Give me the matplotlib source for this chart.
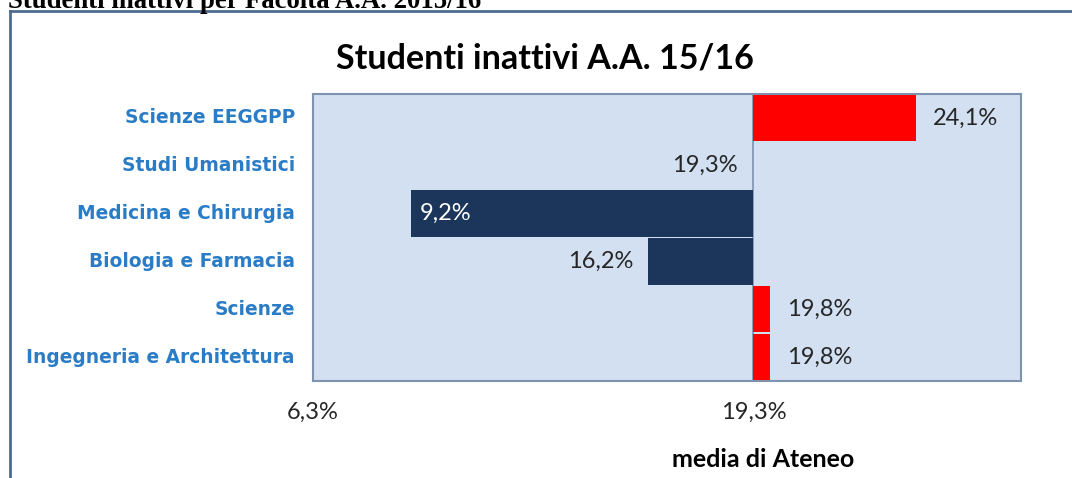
import numpy as np
import matplotlib
matplotlib.use("Agg")
import matplotlib.pyplot as plt
from matplotlib.lines import Line2D

# data
facolta = ["Scienze EEGGPP", "Studi Umanistici", "Medicina e Chirurgia",
           "Biologia e Farmacia", "Scienze", "Ingegneria e Architettura"]
inattivi = [24.1, 19.3, 9.2, 16.2, 19.8, 19.8]
labels = ["24,1%", "19,3%", "9,2%", "16,2%", "19,8%", "19,8%"]
media = 19.3
xmin = 6.3
xmax = 27.2

red = "#FF0000"
navy = "#1B355B"
bg = "#D2E0F1"
edge = "#7F93AE"
cat_blue = "#2A7CC7"
txt = "#262626"

fig = plt.figure(figsize=(10.72, 4.78), dpi=100)
ax = fig.add_axes([313 / 1072, 1 - 381 / 478, (1021 - 313) / 1072, (381 - 94) / 478])
ax.set_facecolor(bg)

y = np.arange(len(facolta))
vals = np.array(inattivi)
colors = [red if v > media else navy for v in vals]
ax.barh(y, vals - media, left=media, height=0.97, color=colors, zorder=3)
ax.axvline(media, color=edge, lw=1.2, zorder=2)

ax.set_xlim(xmin, xmax)
ax.set_ylim(len(facolta) - 0.5, -0.5)
ax.set_xticks([])
ax.set_yticks([])
for s in ax.spines.values():
    s.set_color(edge)
    s.set_linewidth(1.5)

# value labels
fs = 17
for yi, v, lab in zip(y, vals, labels):
    if v > media:
        ax.text(v + 0.5, yi, lab, ha="left", va="center", fontsize=fs,
                family="Lato", color=txt, zorder=4)
    elif v < 10:
        ax.text(v + 0.25, yi, lab, ha="left", va="center", fontsize=fs,
                family="Lato", color="white", zorder=4)
    else:
        ax.text(v - 0.45, yi, lab, ha="right", va="center", fontsize=fs,
                family="Lato", color=txt, zorder=4)

# category labels
for yi, name in zip(y, facolta):
    ax.text(-18 / 708, 1 - (yi + 0.5) / len(facolta), name, transform=ax.transAxes,
            ha="right", va="center", fontsize=13.4, fontweight="bold",
            family="DejaVu Sans", color=cat_blue)

# axis end labels
ax.text(xmin, -0.11, "6,3%", transform=ax.get_xaxis_transform(), ha="center",
        va="center", fontsize=fs, family="Lato", color=txt)
ax.text(media, -0.11, "19,3%", transform=ax.get_xaxis_transform(), ha="center",
        va="center", fontsize=fs, family="Lato", color=txt)
ax.text(media + 0.3, -0.275, "media di Ateneo", transform=ax.get_xaxis_transform(),
        ha="center", va="center", fontsize=18, fontweight="bold", family="Lato",
        color="black")

# chart title
fig.text(545 / 1072, 1 - 58 / 478, "Studenti inattivi A.A. 15/16", ha="center",
         va="center", fontsize=24.5, fontweight="bold", family="Lato", color="black")

# page heading, cut off at the top
fig.text(8 / 1072, 1 - 8 / 478, "Studenti inattivi per Facoltà A.A. 2015/16",
         ha="left", va="baseline", fontsize=19.3, fontweight="bold",
         family="Liberation Serif", color="black")

# outer frame (left and top)
fig.add_artist(Line2D([10 / 1072, 10 / 1072], [0, 1 - 11 / 478],
                      transform=fig.transFigure, color="#4F6A8F", lw=2))
fig.add_artist(Line2D([10 / 1072, 1], [1 - 11 / 478, 1 - 11 / 478],
                      transform=fig.transFigure, color="#4F6A8F", lw=2))

fig.savefig("out.png", dpi=100)
